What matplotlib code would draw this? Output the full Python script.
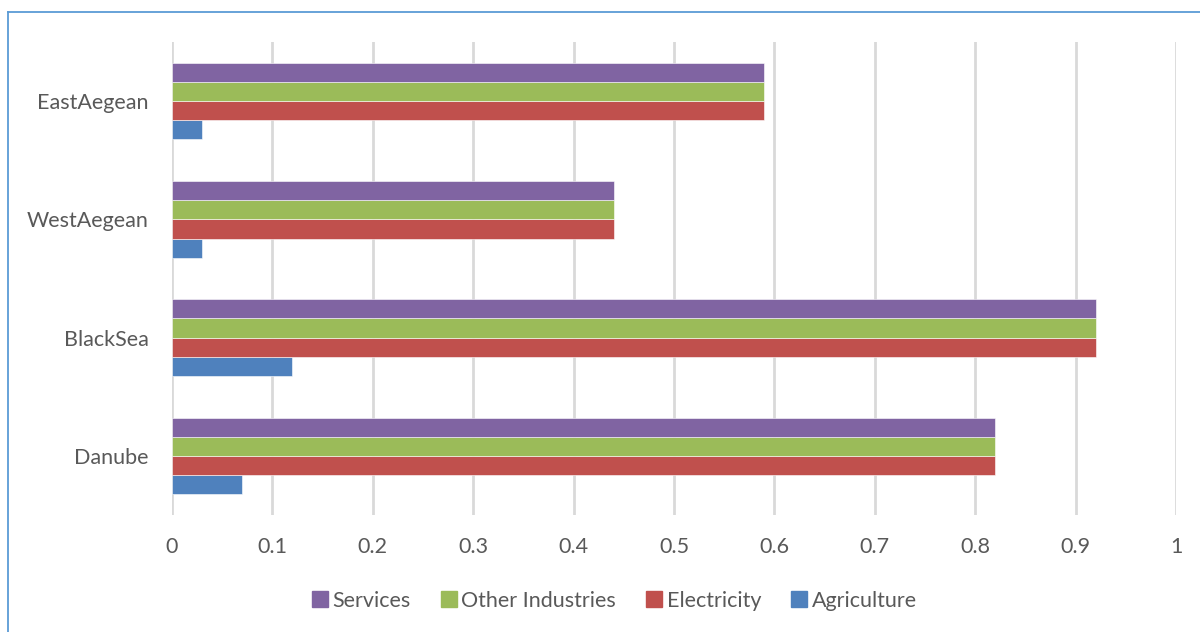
import matplotlib
matplotlib.use("Agg")
import matplotlib.pyplot as plt
from matplotlib.lines import Line2D
import numpy as np

plt.rcParams['font.family'] = ['Lato', 'DejaVu Sans']

regions = ["Danube", "BlackSea", "WestAegean", "EastAegean"]
agriculture = [0.07, 0.12, 0.03, 0.03]
electricity = [0.82, 0.92, 0.44, 0.59]
other_industries = [0.82, 0.92, 0.44, 0.59]
services = [0.82, 0.92, 0.44, 0.59]

series = [
    ("Agriculture", agriculture, "#4F81BD"),
    ("Electricity", electricity, "#C0504D"),
    ("Other Industries", other_industries, "#9BBB59"),
    ("Services", services, "#8064A2"),
]
xticks = np.arange(0, 1.01, 0.1)
xtick_labels = ["0", "0.1", "0.2", "0.3", "0.4", "0.5", "0.6", "0.7", "0.8", "0.9", "1"]

W, H = 1200, 632
fig = plt.figure(figsize=(W / 100, H / 100), dpi=100)
ax = fig.add_axes([172 / W, 1 - 515 / H, (1176 - 172) / W, (515 - 42) / H])

text_color = "#595959"
bar_h = 0.162
y = np.arange(len(regions))
for i, (name, vals, color) in enumerate(series):
    offs = (i - 1.5) * bar_h
    ax.barh(y + offs, vals, height=bar_h, color=color, label=name,
            edgecolor="white", linewidth=0.4, zorder=3)

ax.set_xlim(0, 1)
ax.set_ylim(-0.5, len(regions) - 0.5)
ax.set_xticks(xticks)
ax.set_xticklabels(xtick_labels)
ax.set_yticks(y)
ax.set_yticklabels(regions)
ax.tick_params(axis='both', length=0, labelsize=15.5, colors=text_color)
ax.tick_params(axis='x', pad=16)
ax.tick_params(axis='y', pad=17)
ax.grid(axis='x', color="#D9D9D9", linewidth=2, zorder=0)
for s in ax.spines.values():
    s.set_visible(False)

handles = [Line2D([], [], marker='s', linestyle='none', markersize=11,
                  markerfacecolor=c, markeredgecolor=c) for _, _, c in series[::-1]]
labels = [n for n, _, _ in series[::-1]]
fig.legend(handles, labels, loc='center', bbox_to_anchor=(613 / W, 1 - 601 / H),
           ncol=4, frameon=False, fontsize=15.5, labelcolor=text_color,
           handletextpad=0.1, columnspacing=1.25, handlelength=1.0)

# frame along the top and left edges
border = "#5B9BD5"
fig.add_artist(Line2D([8 / W, 1], [1 - 12 / H, 1 - 12 / H], color=border, linewidth=1.3,
                      transform=fig.transFigure))
fig.add_artist(Line2D([8 / W, 8 / W], [0, 1 - 12 / H], color=border, linewidth=1.3,
                      transform=fig.transFigure))

fig.savefig("out.png", dpi=100, facecolor="white")
